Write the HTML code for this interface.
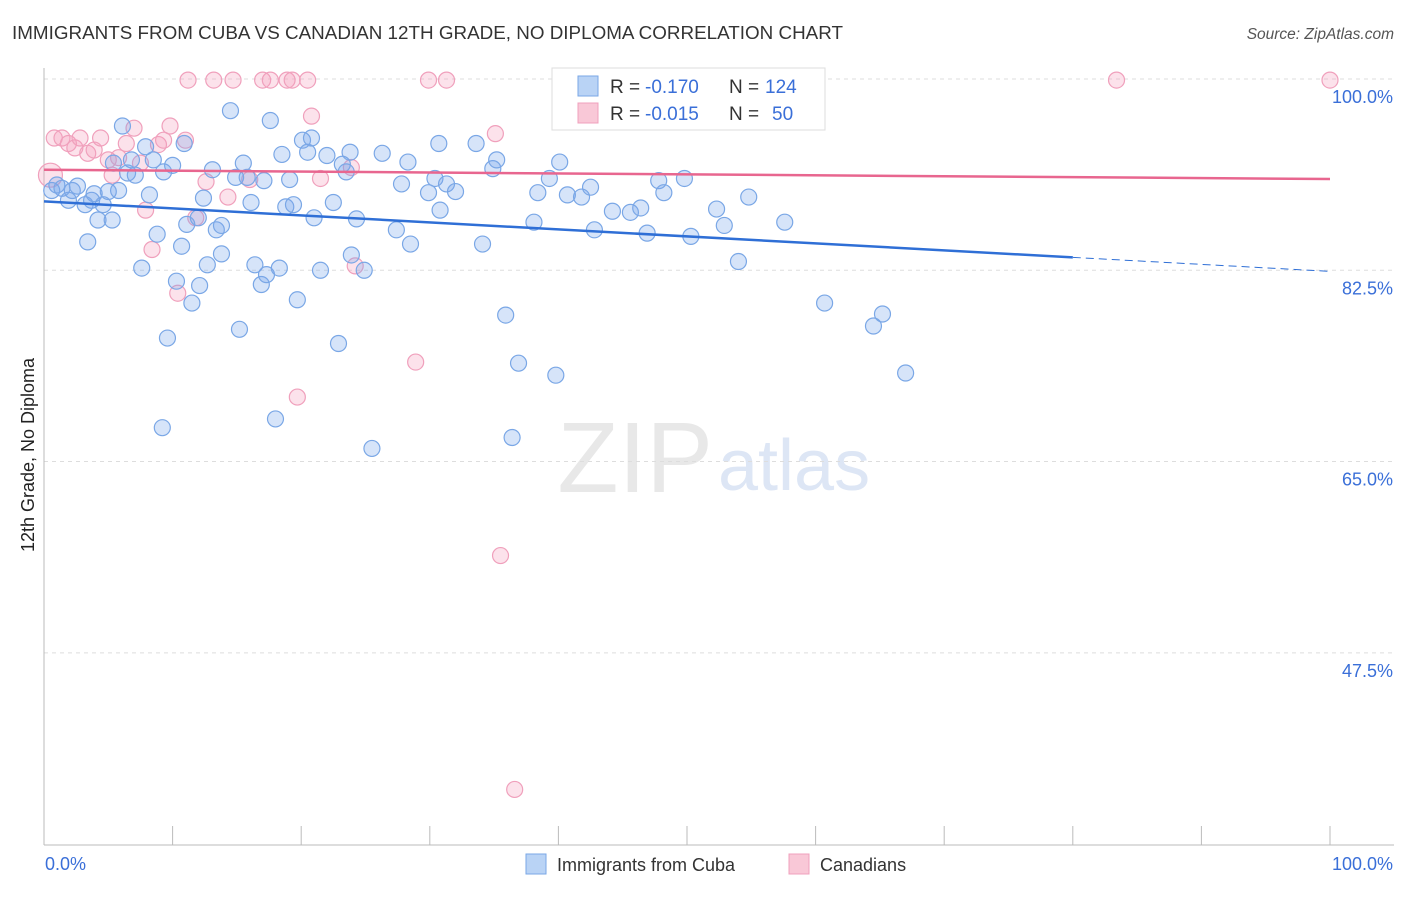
<!DOCTYPE html>
<html><head><meta charset="utf-8"><style>
body{margin:0;background:#fff;font-family:"Liberation Sans",sans-serif;}
svg text{font-family:"Liberation Sans",sans-serif;}
</style></head><body>
<svg id="chart" width="1406" height="892" xmlns="http://www.w3.org/2000/svg">
<text x="12" y="39" font-size="18" fill="#333" textLength="831" lengthAdjust="spacingAndGlyphs">IMMIGRANTS FROM CUBA VS CANADIAN 12TH GRADE, NO DIPLOMA CORRELATION CHART</text>
<text x="1394" y="39" font-size="15.5" fill="#555" text-anchor="end" font-style="italic">Source: ZipAtlas.com</text>
<text x="34" y="455" font-size="18" fill="#222" text-anchor="middle" transform="rotate(-90 34 455)">12th Grade, No Diploma</text>
<text x="713" y="492" font-size="100" fill="#e8e8e8" text-anchor="end" font-family="Liberation Serif">ZIP</text>
<text x="718" y="490" font-size="72" fill="#dde6f5">atlas</text>
<g id="grid"></g><g id="axes"></g><g id="pts"></g><g id="lines"></g>
<g>
<rect x="552" y="68" width="273" height="62" fill="#fff" stroke="#ddd"/>
<rect x="578" y="76" width="20" height="20" fill="#b9d3f5" stroke="#7aa7e6"/>
<text x="610" y="93" font-size="19" fill="#333">R =</text>
<text x="645" y="93" font-size="19" fill="#3a6fd8">-0.170</text>
<text x="729" y="93" font-size="19" fill="#333">N =</text>
<text x="765" y="93" font-size="19" fill="#3a6fd8">124</text>
<rect x="578" y="103" width="20" height="20" fill="#f9c8d7" stroke="#f0a0bc"/>
<text x="610" y="120" font-size="19" fill="#333">R =</text>
<text x="645" y="120" font-size="19" fill="#3a6fd8">-0.015</text>
<text x="729" y="120" font-size="19" fill="#333">N =</text>
<text x="772" y="120" font-size="19" fill="#3a6fd8">50</text>
</g>
<g>
<rect x="526" y="854" width="20" height="20" fill="#b9d3f5" stroke="#7aa7e6"/>
<text x="557" y="871" font-size="18" fill="#333">Immigrants from Cuba</text>
<rect x="789" y="854" width="20" height="20" fill="#f9c8d7" stroke="#f0a0bc"/>
<text x="820" y="871" font-size="18" fill="#333">Canadians</text>
</g>
</svg>
<script>
const yTicks=[100,82.5,65,47.5];
const yTickLabels=["100.0%","82.5%","65.0%","47.5%"];
const xEndLabels=["0.0%","100.0%"];
const blueX=[0.6,1.0,1.4,1.9,2.2,2.6,3.2,3.4,3.7,3.9,4.2,4.6,5.0,5.3,5.8,6.1,5.4,6.5,6.8,7.1,7.6,7.9,8.2,8.5,8.8,9.2,9.3,9.6,10.0,10.3,10.7,10.9,11.1,11.5,12.0,12.1,12.4,12.7,13.1,13.4,13.8,13.8,14.5,14.9,15.2,15.5,15.8,16.1,16.4,16.9,17.1,17.3,17.6,18.0,18.3,18.5,18.8,19.1,19.4,19.7,20.1,20.5,20.8,21.0,21.5,22.0,22.5,22.9,23.2,23.5,23.8,23.9,24.3,24.9,25.5,26.3,27.4,27.8,28.3,28.5,29.9,30.4,30.7,30.8,31.3,32.0,33.6,34.1,34.9,35.2,35.9,36.4,36.9,38.1,38.4,39.3,39.8,40.1,40.7,41.8,42.5,42.8,44.2,45.6,46.4,46.9,47.8,48.2,49.8,50.3,52.3,52.9,54.0,54.8,57.0,57.6,60.7,64.5,65.2,67.0];
const blueY=[89.8,90.3,90.0,88.9,89.8,90.2,88.5,85.1,88.9,89.5,87.1,88.5,89.7,87.1,89.8,95.7,92.3,91.4,92.6,91.2,82.7,93.8,89.4,92.6,85.8,68.1,91.5,76.3,92.1,81.5,84.7,94.1,86.7,79.5,87.3,81.1,89.1,83.0,91.7,86.2,86.6,84.0,97.1,91.0,77.1,92.3,91.0,88.7,83.0,81.2,90.7,82.1,96.2,68.9,82.7,93.1,88.3,90.8,88.5,79.8,94.4,93.3,94.6,87.3,82.5,93.0,88.7,75.8,92.2,91.5,93.3,83.9,87.2,82.5,66.2,93.2,86.2,90.4,92.4,84.9,89.6,90.9,94.1,88.0,90.4,89.7,94.1,84.9,91.8,92.6,78.4,67.2,74.0,86.9,89.6,90.9,72.9,92.4,89.4,89.2,90.1,86.2,87.9,87.8,88.2,85.9,90.7,89.6,90.9,85.6,88.1,86.6,83.3,89.2,100,86.9,79.5,77.4,78.5,73.1];
const pinkX=[0.8,0.5,1.4,1.9,2.4,2.8,3.4,3.9,4.4,5.0,5.3,5.8,6.4,7.0,7.5,7.9,8.4,8.9,9.3,9.8,10.4,11.0,11.2,11.8,12.6,13.2,14.3,14.7,16.0,17.0,17.6,18.9,19.3,19.7,20.5,20.8,21.5,23.9,24.2,28.9,29.9,31.3,35.1,35.5,36.6,40.9,47.7,56.5,83.4,100];
const pinkY=[94.6,91.2,94.6,94.1,93.7,94.6,93.2,93.5,94.6,92.6,91.2,92.8,94.1,95.5,92.3,88.0,84.4,94.0,94.4,95.7,80.4,94.4,99.9,87.3,90.6,99.9,89.2,99.9,90.8,99.9,99.9,99.9,99.9,70.9,99.9,96.6,90.9,91.9,82.9,74.1,99.9,99.9,95.0,56.4,35.0,99.9,99.9,96.4,99.9,99.9];
const blueTrend=[88.8,82.4];
const pinkTrend=[91.7,90.85];
const X0=44,X1=1330,Y100=79,PPU=10.93;
const sx=v=>X0+(X1-X0)*v/100;
const sy=v=>Y100+(100-v)*PPU;
const NS="http://www.w3.org/2000/svg";
function mk(tag,parent,attrs){const e=document.createElementNS(NS,tag);for(const k in attrs)e.setAttribute(k,attrs[k]);document.getElementById(parent).appendChild(e);return e;}
yTicks.forEach((t,i)=>{
 const g=mk('line','grid',{x1:44,x2:1394,y1:sy(t),y2:sy(t),stroke:'#ddd','stroke-dasharray':'4 4'});
 
 
 const l=mk('text','axes',{x:1393,y:sy(t)+24,'font-size':18,fill:'#3a6fd8','text-anchor':'end'});
 l.textContent=yTickLabels[i];
 
 
});
const ax=mk('line','axes',{x1:44,x2:1394,y1:845,y2:845,stroke:'#bbb'});


const ay=mk('line','axes',{x1:44,x2:44,y1:68,y2:845,stroke:'#bbb'});


for(let i=0;i<=10;i++){
 const t=mk('line','axes',{x1:sx(i*10),x2:sx(i*10),y1:826,y2:845,stroke:'#bbb'});
 
 
}
[[0,'start',45],[100,'end',1393]].forEach((d,i)=>{
 const l=mk('text','axes',{x:d[2],y:870,'font-size':18,fill:'#3a6fd8','text-anchor':d[1]});
 l.textContent=xEndLabels[i];
 
 
});
pinkX.forEach((x,i)=>{
 const c=mk('circle','pts',{cx:sx(x),cy:sy(pinkY[i]),r:i==1?12:8,fill:'rgba(244,160,188,0.3)',stroke:'#f0a0bc','stroke-width':1.2});
 
 
});
blueX.forEach((x,i)=>{
 const c=mk('circle','pts',{cx:sx(x),cy:sy(blueY[i]),r:8,fill:'rgba(120,165,235,0.3)',stroke:'#7aa7e6','stroke-width':1.2});
 
 
});
const bAt=v=>blueTrend[0]+(blueTrend[1]-blueTrend[0])*v/100;
const bl=mk('line','lines',{x1:sx(0),y1:sy(bAt(0)),x2:sx(80),y2:sy(bAt(80)),stroke:'#2f6fd6','stroke-width':2.5});


const bd=mk('line','lines',{x1:sx(80),y1:sy(bAt(80)),x2:sx(100),y2:sy(bAt(100)),stroke:'#2f6fd6','stroke-width':1,'stroke-dasharray':'8 5'});


const pl=mk('line','lines',{x1:sx(0),y1:sy(pinkTrend[0]),x2:sx(100),y2:sy(pinkTrend[1]),stroke:'#e8668f','stroke-width':2.5});


</script>
</body></html>
